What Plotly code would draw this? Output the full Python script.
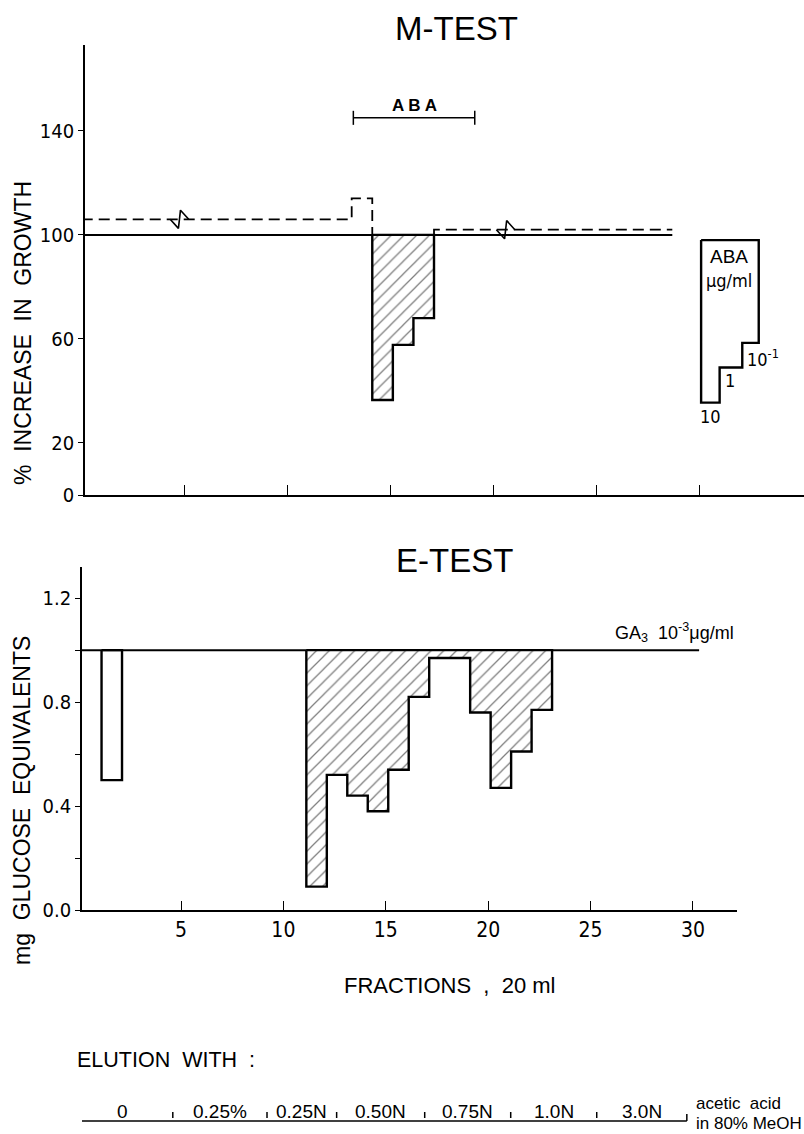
import plotly.graph_objects as go

W, H = 804, 1134

# ---------------- data ----------------
# M-TEST (top panel) : % increase in growth per fraction
m_control_level = 100          # solid control line
m_control_end = 28.7           # last fraction covered by control line
m_frac = [14, 15, 16]          # fractions with inhibition (ABA zone)
m_growth = [36.5, 57.7, 68.0]
m_dash_frac = [0, 13, 14]      # dashed series, first part (step edges)
m_dash_val = [106, 114, 100]
m_dash2_frac = [17, 28.7]      # dashed series, second part
m_dash2_val = [100, 102]
aba_zone = [13.2, 19.1]        # ABA elution zone bracket
aba_zone_level = 145
# ABA standards (ug/ml)
aba_std_edges = [30.1, 31.0, 32.1, 32.9]
aba_std_val = [35.5, 49.0, 58.5]
aba_std_top = 98
aba_std_labels = ["10", "1", "10<sup>-1</sup>"]

# E-TEST (bottom panel) : mg glucose equivalents
e_ga3_level = 1.0
e_ga3_end = 30.3
e_ctrl_frac = [1]
e_ctrl_val = [0.50]
e_frac = [11, 12, 13, 14, 15, 16, 17, 18, 19, 20, 21, 22]
e_gluc = [0.09, 0.52, 0.44, 0.38, 0.54, 0.82, 0.97, 0.97, 0.76, 0.47, 0.61, 0.77]

# elution scheme (boundaries in fraction units) and labels
elution_bounds = [-0.3, 4.6, 9.2, 12.6, 16.9, 21.1, 25.3, 29.7]
elution_labels = ["0", "0.25%", "0.25N", "0.50N", "0.75N", "1.0N", "3.0N"]

x_ticks = [5, 10, 15, 20, 25, 30]
m_yticks = [0, 20, 60, 100, 140]
e_yticks = [0, 0.4, 0.8, 1.2]
e_yticktext = ["0.0", "0.4", "0.8", "1.2"]
e_yminor = [0.2, 0.6, 1.0]

OFFSET = 0.12   # bars drawn starting slightly right of the fraction number
FONT = "Liberation Sans, Arial, sans-serif"
NARROW = "Liberation Sans Narrow, DejaVu Sans Condensed, Arial Narrow, sans-serif"


def step_outline(lefts, widths, vals, top):
    xs, ys = [lefts[0]], [top]
    for L, w, v in zip(lefts, widths, vals):
        xs += [L, L + w]
        ys += [v, v]
    xs += [lefts[-1] + widths[-1], lefts[0]]
    ys += [top, top]
    return xs, ys


hatch = dict(shape="/", fgcolor="black", bgcolor="white", size=9, solidity=0.14)
fig = go.Figure()

# ---------------- top panel ----------------
fig.add_trace(go.Scatter(x=[0, m_control_end], y=[m_control_level] * 2, mode="lines",
                         line=dict(color="black", width=2), xaxis="x", yaxis="y"))
mx, my = step_outline([f + OFFSET for f in m_frac], [1] * len(m_frac), m_growth, m_control_level)
fig.add_trace(go.Scatter(x=mx, y=my, mode="lines", fill="toself", fillcolor="white",
                         fillpattern=hatch, line=dict(color="black", width=2.4),
                         xaxis="x", yaxis="y"))
dx = [m_dash_frac[0]] + [f + OFFSET for f in m_dash_frac[1:]]
fig.add_trace(go.Scatter(x=dx, y=m_dash_val, mode="lines", line_shape="hv",
                         line=dict(color="black", width=1.8, dash="11px,6px"),
                         xaxis="x", yaxis="y"))
dx2 = [m_dash2_frac[0] + OFFSET, m_dash2_frac[1]]
fig.add_trace(go.Scatter(x=dx2, y=m_dash2_val, mode="lines", line_shape="vh",
                         line=dict(color="black", width=1.8, dash="11px,6px"),
                         xaxis="x", yaxis="y"))
# break marks on the dashed line
brk_x, brk_y = [], []
for bx, lvl in [(4.75, m_dash_val[0]), (20.6, m_dash2_val[1])]:
    brk_x += [bx - 0.45, bx - 0.05, bx + 0.05, bx + 0.45, None]
    brk_y += [lvl, lvl - 3.5, lvl + 3.5, lvl, None]
fig.add_trace(go.Scatter(x=brk_x, y=brk_y, mode="lines",
                         line=dict(color="black", width=1.6), xaxis="x", yaxis="y"))
# ABA zone bracket
bx0, bx1 = aba_zone
fig.add_trace(go.Scatter(x=[bx0, bx0, None, bx0, bx1, None, bx1, bx1],
                         y=[aba_zone_level - 2.7, aba_zone_level + 2.7, None,
                            aba_zone_level, aba_zone_level, None,
                            aba_zone_level - 2.7, aba_zone_level + 2.7],
                         mode="lines", line=dict(color="black", width=1.5),
                         xaxis="x", yaxis="y", cliponaxis=False))
# ABA standards
sw = [aba_std_edges[i + 1] - aba_std_edges[i] for i in range(len(aba_std_val))]
sx, sy = step_outline(aba_std_edges[:-1], sw, aba_std_val, aba_std_top)
fig.add_trace(go.Scatter(x=sx, y=sy, mode="lines", line=dict(color="black", width=2.4),
                         xaxis="x", yaxis="y"))

# ---------------- bottom panel ----------------
fig.add_trace(go.Scatter(x=[0, e_ga3_end], y=[e_ga3_level] * 2, mode="lines",
                         line=dict(color="black", width=2), xaxis="x2", yaxis="y2"))
cx, cy = step_outline([f + OFFSET for f in e_ctrl_frac], [1], e_ctrl_val, e_ga3_level)
fig.add_trace(go.Scatter(x=cx, y=cy, mode="lines", line=dict(color="black", width=2.4),
                         xaxis="x2", yaxis="y2"))
ex, ey = step_outline([f + OFFSET for f in e_frac], [1] * len(e_frac), e_gluc, e_ga3_level)
fig.add_trace(go.Scatter(x=ex, y=ey, mode="lines", fill="toself", fillcolor="white",
                         fillpattern=hatch, line=dict(color="black", width=2.4),
                         xaxis="x2", yaxis="y2"))

axis_common = dict(showgrid=False, zeroline=False, showline=True, linecolor="black",
                   linewidth=1.6, tickcolor="black", tickwidth=1.4, automargin=False)


def ann(text, x, y, size, xref="paper", yref="paper", xanchor="center", family=FONT, **kw):
    return dict(text=text, x=x, y=y, xref=xref, yref=yref, xanchor=xanchor,
                yanchor="middle", showarrow=False,
                font=dict(family=family, size=size, color="black"), **kw)


annotations = [
    ann("M-TEST", 456 / W, 1 - 28 / H, 33),
    ann("E-TEST", 455 / W, 1 - 560 / H, 33),
    ann("%\u00a0 INCREASE\u00a0 IN\u00a0 GROWTH", 23 / W, 1 - 333 / H, 23, textangle=-90),
    ann("mg\u00a0 GLUCOSE\u00a0 EQUIVALENTS", 22 / W, 1 - 801 / H, 23, textangle=-90),
    ann("<b>A B A</b>", (bx0 + bx1) / 2, aba_zone_level + 4.8, 17, xref="x", yref="y"),
    ann("ABA", 31.45, 91.5, 19, xref="x", yref="y"),
    ann("\u03bcg/ml", 31.45, 82.3, 18, xref="x", yref="y", family=NARROW),
    ann("GA<sub>3</sub>\u00a0 10<sup>-3</sup>\u03bcg/ml", 613 / W, 1 - 632 / H, 18, xanchor="left"),
    ann("FRACTIONS\u00a0 ,\u00a0 20 ml", 450 / W, 1 - 985 / H, 22),
    ann("ELUTION\u00a0 WITH\u00a0 :", 75 / W, 1 - 1060 / H, 21.5, xanchor="left"),
    ann("acetic\u00a0 acid", 694 / W, 1 - 1103 / H, 17, xanchor="left"),
    ann("in 80% MeOH", 694 / W, 1 - 1123 / H, 17, xanchor="left"),
]
# labels of the ABA standards
std_pos = [(0.5 * (aba_std_edges[0] + aba_std_edges[1]), aba_std_val[0] - 5.5, "center"),
           (aba_std_edges[1] + 0.5, aba_std_val[1] - 5.0, "center"),
           (aba_std_edges[2] + 0.15, aba_std_val[2] - 5.8, "left")]
for (px, py, anc), lab in zip(std_pos, aba_std_labels):
    annotations.append(ann(lab, px, py, 18, xref="x", yref="y", xanchor=anc, family=NARROW))

# elution scheme
EL_Y = 1 - 1121 / H
shapes = [dict(type="line", xref="x2", yref="paper", x0=elution_bounds[0], x1=elution_bounds[-1],
               y0=EL_Y, y1=EL_Y, line=dict(color="black", width=1.5))]
for i, b in enumerate(elution_bounds):
    if i == 0 or i == len(elution_bounds) - 1:
        y0, y1 = EL_Y, EL_Y + 7 / H
    else:
        y0, y1 = EL_Y + 3 / H, EL_Y + 9 / H
    shapes.append(dict(type="line", xref="x2", yref="paper", x0=b, x1=b, y0=y0, y1=y1,
                       line=dict(color="black", width=1.5)))
for i, lab in enumerate(elution_labels):
    annotations.append(ann(lab, 0.5 * (elution_bounds[i] + elution_bounds[i + 1]),
                           1 - 1111 / H, 19, xref="x2"))

fig.update_layout(
    width=W, height=H, margin=dict(l=0, r=0, t=0, b=0, pad=0),
    paper_bgcolor="white", plot_bgcolor="white", showlegend=False,
    font=dict(family=FONT, color="black"),
    xaxis=dict(domain=[85 / W, 1], range=[0.16, 35.1], anchor="y", ticks="inside", ticklen=10,
               tickvals=x_ticks, showticklabels=False, **axis_common),
    yaxis=dict(domain=[1 - 495 / H, 1 - 45 / H], range=[0, 173], anchor="x", ticks="outside",
               ticklen=5, tickvals=m_yticks, tickfont=dict(family=NARROW, size=20, color="black"),
               **axis_common),
    xaxis2=dict(domain=[82 / W, 737 / W], range=[0.166, 32.15], anchor="y2", ticks="inside",
                ticklen=9, tickvals=x_ticks, tickfont=dict(family=NARROW, size=21, color="black"),
                **axis_common),
    yaxis2=dict(domain=[1 - 910 / H, 1 - 567 / H], range=[0, 1.32], anchor="x2", ticks="outside",
                ticklen=5, tickvals=e_yticks, ticktext=e_yticktext,
                minor=dict(tickvals=e_yminor, ticks="outside", ticklen=5, tickcolor="black",
                           tickwidth=1.4, showgrid=False),
                tickfont=dict(family=NARROW, size=20, color="black"), **axis_common),
    annotations=annotations, shapes=shapes,
)

fig.write_html("out.html")
